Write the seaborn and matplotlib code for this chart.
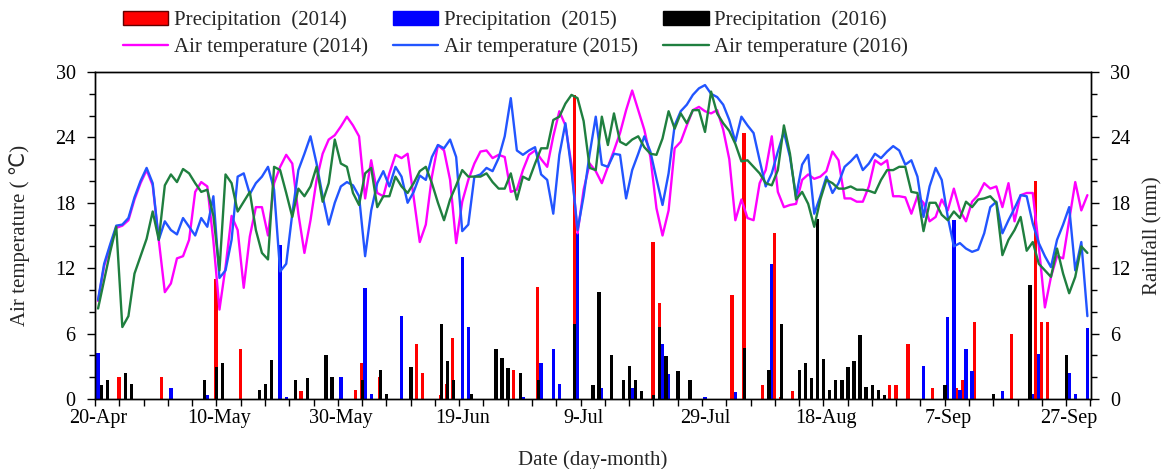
import numpy as np
import pandas as pd
import seaborn as sns
import matplotlib.pyplot as plt
from matplotlib.patches import Patch
from matplotlib.lines import Line2D

# Daily air temperature (deg C), day 0 = 20-Apr ... day 163 = 30-Sep
temp_2014 = [9.0, 12.2, 14.0, 15.7, 15.9, 16.4, 18.3, 19.8, 21.0, 19.6,
             14.6, 9.8, 10.6, 12.9, 13.1, 14.6, 19.0, 19.9, 19.5, 14.5,
             8.2, 12.1, 16.8, 15.5, 10.2, 14.9, 17.6, 17.6, 15.0, 19.8,
             21.3, 22.4, 21.6, 17.0, 13.4, 16.4, 20.1, 22.5, 23.8, 24.2,
             25.0, 25.9, 25.1, 24.1, 18.4, 21.9, 18.9, 18.6, 20.7, 22.4,
             22.1, 22.5, 18.5, 14.4, 16.0, 20.4, 23.3, 22.8, 20.1, 14.3,
             18.1, 20.1, 21.6, 22.7, 22.8, 22.1, 22.4, 22.2, 19.0, 19.2,
             21.0, 22.4, 22.8, 22.0, 21.3, 24.1, 26.4, 25.1, 21.5, 15.2,
             19.2, 21.6, 20.9, 19.8, 21.3, 22.8, 24.4, 26.5, 28.3, 26.5,
             24.7, 22.2, 17.5, 15.0, 17.3, 23.0, 23.6, 25.1, 26.5, 26.8,
             26.4, 26.2, 26.5, 24.7, 22.0, 16.4, 18.3, 16.6, 16.4, 19.8,
             21.0, 24.1, 19.0, 17.6, 17.8, 17.9, 20.1, 20.6, 20.2, 20.4,
             20.9, 22.7, 21.9, 18.4, 18.4, 18.1, 18.1, 19.5, 21.9, 21.5,
             21.9, 18.6, 18.6, 18.5, 17.0, 18.6, 18.0, 16.3, 16.7, 18.3,
             17.3, 19.3, 17.3, 16.3, 18.1, 18.7, 19.8, 19.3, 19.5, 17.6,
             19.8, 16.3, 18.7, 18.9, 18.9, 14.0, 8.4, 11.2, 13.1, 12.9,
             16.4, 19.9, 17.3, 18.7]
temp_2015 = [9.1, 12.4, 14.2, 15.9, 16.0, 16.6, 18.5, 20.0, 21.2, 19.8,
             14.6, 16.3, 15.5, 15.1, 16.6, 15.8, 15.0, 16.6, 15.8, 18.6,
             11.1, 11.8, 14.6, 20.4, 20.7, 18.8, 19.8, 20.4, 21.3, 19.2,
             11.7, 12.4, 17.0, 21.0, 22.5, 24.1, 21.6, 18.6, 16.0, 18.0,
             19.5, 19.9, 19.6, 18.6, 13.1, 17.3, 19.8, 20.9, 19.5, 21.3,
             20.4, 18.0, 19.0, 20.5, 20.1, 22.2, 23.3, 23.0, 23.8, 22.2,
             15.4, 16.0, 20.4, 20.6, 21.2, 20.9, 22.1, 24.1, 27.6, 22.8,
             22.4, 22.8, 23.1, 20.6, 20.1, 17.0, 22.4, 25.3, 21.0, 15.5,
             18.6, 22.5, 25.9, 21.5, 21.3, 22.5, 22.4, 18.4, 21.0, 22.5,
             24.1, 22.7, 20.2, 17.8, 20.7, 25.1, 26.4, 27.0, 27.9, 28.5,
             28.8, 28.0, 27.7, 27.0, 25.6, 23.6, 25.9, 25.1, 24.4, 21.9,
             19.5, 20.7, 22.7, 24.5, 22.2, 18.6, 21.5, 22.4, 17.0, 18.6,
             20.4, 18.9, 19.8, 21.3, 21.8, 22.4, 21.0, 21.6, 22.5, 22.1,
             22.7, 23.2, 22.8, 21.5, 21.9, 20.4, 16.7, 19.5, 21.2, 20.1,
             16.7, 14.0, 14.3, 13.8, 13.5, 13.7, 15.2, 17.6, 18.1, 15.2,
             16.4, 17.5, 18.7, 18.6, 16.1, 14.3, 13.1, 12.1, 14.6, 16.0,
             17.6, 11.8, 14.4, 7.6]
temp_2016 = [8.3, 10.9, 13.5, 15.8, 6.6, 7.6, 11.5, 13.1, 14.7, 17.2,
             14.6, 19.6, 20.6, 19.9, 21.1, 20.7, 19.8, 19.0, 19.2, 16.8,
             11.8, 20.6, 19.8, 17.2, 18.1, 19.0, 15.5, 13.4, 12.8, 21.3,
             21.0, 18.9, 16.7, 19.3, 18.6, 19.5, 21.3, 18.1, 19.8, 23.8,
             21.6, 21.3, 18.9, 17.8, 20.7, 21.2, 17.6, 18.6, 18.6, 20.4,
             19.5, 18.9, 19.8, 20.9, 21.3, 19.8, 18.0, 16.4, 18.3, 19.6,
             21.0, 20.4, 20.4, 20.4, 20.7, 19.9, 19.3, 19.3, 20.7, 18.3,
             20.4, 20.1, 21.6, 23.0, 23.0, 25.6, 25.9, 27.1, 27.9, 27.6,
             25.5, 21.2, 21.0, 25.9, 23.3, 26.2, 23.6, 23.3, 23.8, 24.1,
             23.1, 22.5, 22.4, 23.9, 26.4, 24.8, 26.2, 25.3, 26.5, 26.5,
             24.5, 28.2, 26.2, 25.3, 24.6, 23.4, 21.8, 21.9, 21.3, 20.7,
             19.8, 19.6, 21.0, 25.1, 22.5, 18.3, 19.0, 17.9, 15.8, 18.3,
             20.1, 19.8, 19.3, 19.3, 19.5, 19.2, 19.2, 19.1, 18.9, 20.1,
             21.0, 21.0, 21.3, 21.3, 19.0, 18.9, 15.4, 18.0, 18.0, 16.9,
             16.4, 17.2, 16.6, 18.1, 17.6, 18.3, 18.4, 18.6, 18.0, 13.2,
             14.6, 15.5, 16.7, 13.6, 14.4, 12.4, 11.8, 11.2, 13.8, 11.5,
             9.7, 11.2, 14.0, 13.4]

# Rainy days (day index) and rainfall (mm)
rain_2014_days = [4, 11, 20, 24, 34, 43, 44, 47, 53, 54, 57, 58, 59, 68, 69, 73, 79, 82,
                  92, 93, 105, 107, 110, 112, 113, 115, 123, 124, 125, 126, 131, 132,
                  134, 138, 142, 143, 145, 151, 155, 156, 157]
rain_2014_mm = [2.0, 2.0, 11.0, 4.6, 0.7, 0.8, 3.3, 2.0, 5.0, 2.4, 0.4, 1.4, 5.6, 0.5, 2.7,
                10.3, 27.9, 1.0, 14.4, 8.8, 9.5, 24.4, 1.3, 15.2, 0.2, 0.7, 0.7, 2.3, 3.5,
                0.4, 1.3, 1.3, 5.0, 1.0, 1.0, 1.7, 7.1, 6.0, 20.0, 7.1, 7.1]
rain_2015_days = [0, 12, 18, 30, 31, 40, 44, 45, 50, 60, 61, 70, 73, 75, 76, 79, 83, 88,
                  93, 94, 100, 105, 111, 136, 140, 141, 142, 143, 144, 149, 154, 155,
                  160, 161, 163]
rain_2015_mm = [4.2, 1.0, 0.4, 14.1, 0.2, 2.0, 10.2, 0.5, 7.6, 13.0, 6.6, 0.2, 3.3, 4.6,
                1.4, 15.2, 1.0, 1.0, 5.0, 2.3, 0.2, 0.6, 12.4, 3.0, 7.5, 16.4, 0.8, 4.6,
                2.6, 0.7, 0.5, 4.1, 2.4, 0.5, 6.5]
rain_2016_days = [0, 1, 4, 5, 17, 19, 20, 26, 27, 28, 32, 34, 37, 38, 43, 46, 47, 51, 56,
                  57, 58, 61, 65, 66, 67, 69, 72, 78, 81, 82, 84, 86, 87, 88, 89, 91, 92,
                  93, 95, 97, 106, 110, 112, 115, 116, 117, 118, 119, 120, 121, 122, 123,
                  124, 125, 126, 127, 128, 129, 139, 147, 153, 159]
rain_2016_mm = [1.3, 1.7, 2.4, 1.4, 1.7, 2.9, 3.3, 0.8, 1.4, 3.6, 1.7, 1.9, 4.0, 2.0, 1.7,
                2.7, 0.5, 2.9, 6.9, 3.5, 1.7, 0.5, 4.6, 3.8, 2.8, 2.4, 1.7, 6.9, 1.3, 9.8,
                4.0, 1.7, 3.0, 1.7, 0.7, 0.4, 6.6, 3.9, 2.6, 1.7, 4.7, 2.7, 6.9, 2.7, 3.3,
                1.9, 16.5, 3.7, 0.8, 1.7, 1.7, 2.9, 3.5, 5.9, 1.1, 1.3, 0.8, 0.4, 1.3, 0.5,
                10.5, 4.0]

years = ['2014', '2015', '2016']
tick_days = [0, 20, 40, 60, 80, 100, 120, 140, 160]
tick_labels = ['20-Apr', '10-May', '30-May', '19-Jun', '9-Jul', '29-Jul', '18-Aug', '7-Sep', '27-Sep']

bar_colors = ['#ff0000', '#0000ff', '#000000']
line_colors = ['#ff00ff', '#2255ff', '#1f7f3f']

n = len(temp_2015)
day = np.arange(n)


def daily(days_, mm):
    arr = np.zeros(n)
    arr[days_] = mm
    return arr


temp_df = pd.DataFrame({
    'day': np.tile(day, 3),
    'temp': temp_2014 + temp_2015 + temp_2016,
    'year': np.repeat(years, n),
})
rain_df = pd.DataFrame({
    'day': np.tile(day, 3),
    'rain': np.concatenate([daily(rain_2014_days, rain_2014_mm),
                            daily(rain_2015_days, rain_2015_mm),
                            daily(rain_2016_days, rain_2016_mm)]),
    'year': np.repeat(years, n),
})

sns.set_theme(style='ticks')
plt.rcParams['font.family'] = ['Liberation Serif', 'DejaVu Sans']
plt.rcParams['axes.edgecolor'] = 'black'
plt.rcParams['xtick.color'] = 'black'
plt.rcParams['ytick.color'] = 'black'

fig = plt.figure(figsize=(11.66, 4.69), dpi=100)
ax = fig.add_axes([0.0815, 0.1493, 0.8542, 0.6972])
ax2 = ax.twinx()

# rainfall bars (right axis)
sns.barplot(data=rain_df, x='day', y='rain', hue='year', hue_order=years,
            palette=bar_colors, native_scale=True, width=1.65, errorbar=None,
            saturation=1, linewidth=0, legend=False, ax=ax2)

# air temperature lines (left axis)
sns.lineplot(data=temp_df, x='day', y='temp', hue='year', hue_order=years,
             palette=line_colors, linewidth=1.7, errorbar=None, legend=False, ax=ax)

ax.set_zorder(ax2.get_zorder() + 1)
ax.patch.set_visible(False)

for a in (ax, ax2):
    a.set_ylim(0, 30)
    a.set_yticks(range(0, 31, 6))
    a.set_yticks(range(0, 31, 2), minor=True)
    a.tick_params(axis='y', which='major', direction='out', length=6, width=1,
                  labelsize=14.5, pad=8)
    a.tick_params(axis='y', which='minor', direction='out', length=4, width=1)
    for s in a.spines.values():
        s.set_linewidth(1)
        s.set_color('black')

ax.set_xlim(-0.5, 163.6)
ax.set_xticks(tick_days)
ax.set_xticklabels(tick_labels)
ax.set_xticks(np.arange(-0.5, 164, 4), minor=True)
ax.tick_params(axis='x', which='major', length=0, pad=7, labelsize=14.5)
ax.tick_params(axis='x', which='minor', direction='out', length=5, width=1)

ax.set_xlabel('Date (day-month)', fontsize=15, labelpad=16)
ax.set_ylabel('Air temperature ( ℃)', fontsize=15, labelpad=18)
ax2.set_ylabel('Rainfall (mm)', fontsize=15, labelpad=9)

handles = []
labels = []
for yr, bc, lc in zip(years, bar_colors, line_colors):
    handles.append(Patch(facecolor=bc, edgecolor='#600000' if bc == '#ff0000' else bc))
    labels.append(f'Precipitation  ({yr})')
    handles.append(Line2D([], [], color=lc, linewidth=1.7))
    labels.append(f'Air temperature ({yr})')

fig.legend(handles, labels, ncol=3, loc='upper left', bbox_to_anchor=(0.098, 0.995),
           frameon=False, fontsize=15, handlelength=2.2, handletextpad=0.25,
           columnspacing=1.2, labelspacing=0.35, borderaxespad=0.2, borderpad=0.2)

fig.savefig('out.png', dpi=100)
